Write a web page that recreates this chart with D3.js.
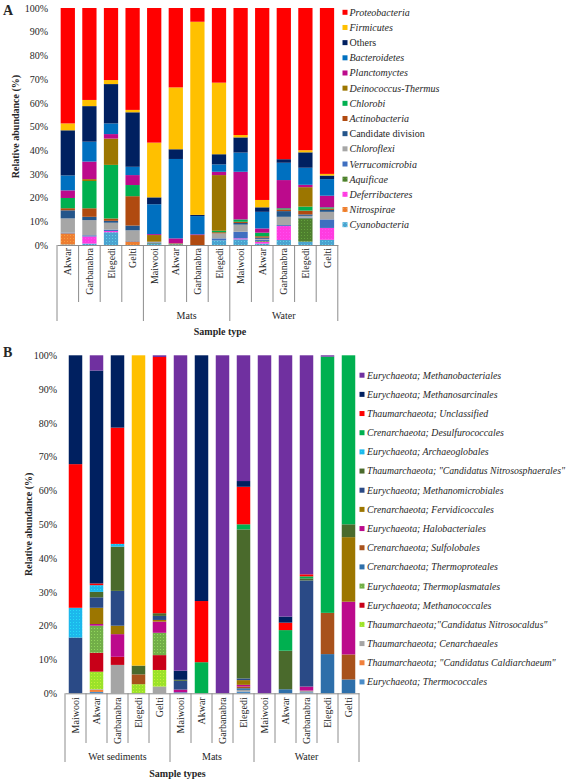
<!DOCTYPE html>
<html><head><meta charset="utf-8">
<script src="https://cdn.jsdelivr.net/npm/d3@7/dist/d3.min.js"></script>
<style>
body{margin:0;background:#fff}
svg{display:block}
text{font-family:"Liberation Serif","Times New Roman",serif;fill:#262626}
</style></head>
<body><svg id="chart" width="567" height="780"></svg>
<script>
// ---------- Panel A data (bacteria, 13 samples) ----------
const samplesA = ["Akwar","Garbanabra","Elegedi","Gelti","Maiwooi","Akwar","Garbanabra","Elegedi","Maiwooi","Akwar","Garbanabra","Elegedi","Gelti"];
const groupNamesA = ["", "Mats", "Water"];
const groupSizesA = [4, 4, 5];
const tickLabels = ["0%","10%","20%","30%","40%","50%","60%","70%","80%","90%","100%"];

// series listed bottom -> top of the stack
const cyanobacteria     = [0.2,0.6,5.4,0,0.4,0.2,0,2.0,2.4,0.6,2.1,1.4,2.2];
const nitrospirae       = [4.7,0,0,1.5,0,0,0,0,0,0,0,0,0];
const deferribacteres   = [0,3.0,0.5,0,0,0,0,0,0.4,0.8,5.9,0,5.0];
const aquificae         = [0,0,0,0,0.3,0.3,0,0,0,0.3,0,9.9,0];
const verrucomicrobia   = [0.3,0.5,0.6,0.2,0.4,0,0,0.8,2.8,0.5,0.4,0.3,3.6];
const chloroflexi       = [6.0,6.4,2.9,4.5,0.3,0,0,2.1,3.0,0.4,3.5,0.7,3.2];
const candidateDivision = [3.4,1.4,0.8,2.0,0,0,0,0,0.7,0.5,2.4,0.6,0.8];
const actinobacteria    = [0.9,3.6,1.0,12.4,0,0,4.2,0.5,0.5,0.6,0.7,1.6,0.6];
const chlorobi          = [4.3,11.5,22.6,4.7,0,0,0,0.6,1.0,1.5,0.5,1.7,0.5];
const deinococcus       = [0,0.8,11.1,0,2.8,0.2,0,23.5,0,0,0,8.2,0];
const planctomyctes     = [3.2,7.4,1.9,4.2,0.4,2.1,0.3,1.4,20.1,1.8,11.9,1.0,4.9];
const bacteroidetes     = [6.3,8.4,4.5,3.5,12.6,33.5,7.7,3.1,8.1,7.0,7.3,7.2,7.0];
const othersA           = [19.0,15.0,16.6,23.0,2.9,4.1,0.5,4.3,6.4,1.9,1.5,6.5,1.5];
const firmicutes        = [2.9,2.6,1.7,1.0,23.1,26.1,81.5,30.2,1.0,3.1,0,0.9,0.7];
const proteobacteria    = [48.6,38.8,30.4,43.0,56.8,33.5,5.8,31.5,53.6,81.0,63.8,60.0,70.0];

const seriesA = [
  {name:"Cyanobacteria", values:cyanobacteria, color:"#4BA3D0", dots:true, italic:true},
  {name:"Nitrospirae", values:nitrospirae, color:"#ED7D31", dots:true, italic:true},
  {name:"Deferribacteres", values:deferribacteres, color:"#FF3CE0", dots:true, italic:true},
  {name:"Aquificae", values:aquificae, color:"#4E7F2E", dots:true, italic:true},
  {name:"Verrucomicrobia", values:verrucomicrobia, color:"#3F6FC0", italic:true},
  {name:"Chloroflexi", values:chloroflexi, color:"#A6A6A6", italic:true},
  {name:"Candidate division", values:candidateDivision, color:"#24558A", italic:false},
  {name:"Actinobacteria", values:actinobacteria, color:"#B04A10", italic:true},
  {name:"Chlorobi", values:chlorobi, color:"#00B050", italic:true},
  {name:"Deinococcus-Thermus", values:deinococcus, color:"#9C7600", italic:true},
  {name:"Planctomyctes", values:planctomyctes, color:"#BC0A8C", italic:true},
  {name:"Bacteroidetes", values:bacteroidetes, color:"#0070C0", italic:true},
  {name:"Others", values:othersA, color:"#002060", italic:false},
  {name:"Firmicutes", values:firmicutes, color:"#FFC000", italic:true},
  {name:"Proteobacteria", values:proteobacteria, color:"#FF0000", italic:true}
];

// ---------- Panel B data (archaea, 14 samples) ----------
const samplesB = ["Maiwooi","Akwar","Garbanabra","Elegedi","Gelti","Maiwooi","Akwar","Garbanabra","Elegedi","Maiwooi","Akwar","Garbanabra","Elegedi","Gelti"];
const groupNamesB = ["Wet sediments", "Mats", "Water"];
const groupSizesB = [5, 4, 5];

const thermococcales     = [0,0.4,0,0,0,0.3,0,0,0.5,0,0,0.3,0,0];
const caldiarchaeum      = [0,0.6,0,0,0,0,0,0,0,0,0,0,0,0];
const cenarchaeales      = [0,0.2,8.4,0,2.0,0,0,0,0.5,0,0,0.5,0,0];
const nitrosocaldus      = [0,5.2,0,2.7,4.9,0,0,0,0,0,0,0,0,0];
const methanococcales    = [0,5.6,2.4,0,4.4,0,0,0,0,0,0,0,0,0];
const thermoplasmatales  = [0,8.0,0,0,6.6,0,0,0,0,0,0,0,0,0];
const thermoproteales    = [0,0,0,0,0,0,0,0,0.5,0,1.2,0,11.6,4.1];
const sulfolobales       = [0,0,0,2.9,0,0,0,0,0.5,0,0,0,12.2,7.4];
const halobacteriales    = [0,0.5,6.7,0,3.3,0.8,0,0,0.5,0,0,1.2,0,15.6];
const fervidicoccales    = [0,4.8,2.5,0,0.5,0,0,0,1.4,0,0,0,0,19.1];
const methanomicrobiales = [16.5,3.1,10.3,0,1.2,2.6,0,0,0.5,0,0,31.4,0,0];
const nitrososphaerales  = [0,1.6,13.1,2.6,0.8,0.3,0,0,44.1,0,11.4,0.6,0,3.8];
const archaeoglobales    = [8.8,2.0,0.8,0,0,0,0,0,0,0,0,0,0,0];
const desulfurococcales  = [0,0,0,0,0,0,9.2,0,1.5,0,6.1,0.6,75.8,50.0];
const thaumUnclassified  = [42.5,0.5,34.4,0,75.8,0,18.1,0,11.1,0,2.2,0.6,0,0];
const methanosarcinales  = [32.2,63.0,21.4,0,0,2.7,72.7,0,1.7,0,1.8,0,0,0];
const methanobacteriales = [0,4.5,0,0,0.5,93.4,0,100,37.2,100,77.3,64.8,0.4,0];
const unlistedB          = [0,0,0,91.8,0,0,0,0,0,0,0,0,0,0];

const seriesB = [
  {name:"Eurychaeota; Thermococcales", values:thermococcales, color:"#4A8CC8"},
  {name:"Thaumarchaeota; \"Candidatus Caldiarchaeum\"", values:caldiarchaeum, color:"#F0803C"},
  {name:"Thaumarchaeota; Cenarchaeales", values:cenarchaeales, color:"#A5A5A5"},
  {name:"Thaumarchaeota;\"Candidatus Nitrosocaldus\"", values:nitrosocaldus, color:"#9BE22A", dots:true},
  {name:"Eurychaeota; Methanococcales", values:methanococcales, color:"#C80018"},
  {name:"Eurychaeota; Thermoplasmatales", values:thermoplasmatales, color:"#72AE48", dots:true},
  {name:"Crenarchaeota; Thermoproteales", values:thermoproteales, color:"#2E6FAA"},
  {name:"Crenarchaeota; Sulfolobales", values:sulfolobales, color:"#A8521C"},
  {name:"Eurychaeota; Halobacteriales", values:halobacteriales, color:"#BC0A8C"},
  {name:"Crenarchaeota; Fervidicoccales", values:fervidicoccales, color:"#9C7600"},
  {name:"Eurychaeota; Methanomicrobiales", values:methanomicrobiales, color:"#2A4A86"},
  {name:"Thaumarchaeota; \"Candidatus Nitrososphaerales\"", values:nitrososphaerales, color:"#4A6A2C"},
  {name:"Eurychaeota; Archaeoglobales", values:archaeoglobales, color:"#1CB8EC", dots:true},
  {name:"Crenarchaeota; Desulfurococcales", values:desulfurococcales, color:"#00B050"},
  {name:"Thaumarchaeota; Unclassified", values:thaumUnclassified, color:"#FF0000"},
  {name:"Eurychaeota; Methanosarcinales", values:methanosarcinales, color:"#002060"},
  {name:"Eurychaeota; Methanobacteriales", values:methanobacteriales, color:"#7030A0"},
  {name:"unlisted", values:unlistedB, color:"#FFC000", legend:false}
];
seriesB.forEach(s => { s.italic = true; });

const svg = d3.select("#chart");
const defs = svg.append("defs");

function patternFor(key, color) {
  const id = "pat-" + key;
  const p = defs.append("pattern").attr("id", id).attr("patternUnits","userSpaceOnUse")
    .attr("width", 3).attr("height", 3);
  p.append("rect").attr("width",3).attr("height",3).attr("fill", color);
  p.append("rect").attr("x",1).attr("y",1).attr("width",0.8).attr("height",0.8)
    .attr("fill", d3.color(color).brighter(1.2)).attr("opacity",0.8);
  return "url(#" + id + ")";
}

function drawPanel(cfg) {
  const g = svg.append("g");
  const n = cfg.samples.length;
  const idx = d3.range(n);
  const x = d3.scaleBand().domain(idx).range([cfg.x0, cfg.x1])
    .paddingInner(cfg.padIn).paddingOuter(cfg.padIn / 2);
  const y = d3.scaleLinear().domain([0, 1]).range([cfg.yBot, cfg.yTop]);

  cfg.series.forEach((s, k) => {
    s.fill = s.dots ? patternFor(cfg.key + k, s.color) : s.color;
  });

  const rows = idx.map(i => {
    const r = {i};
    cfg.series.forEach(s => { r[s.name] = s.values[i]; });
    return r;
  });
  const stack = d3.stack().keys(cfg.series.map(s => s.name)).offset(d3.stackOffsetExpand);
  const layers = stack(rows);

  g.selectAll("g.layer").data(layers).join("g")
    .attr("fill", (d, k) => cfg.series[k].fill)
    .selectAll("rect").data(d => d).join("rect")
      .attr("x", d => x(d.data.i))
      .attr("width", x.bandwidth())
      .attr("y", d => y(d[1]))
      .attr("height", d => Math.max(0, y(d[0]) - y(d[1])));

  // y axis (labels only)
  const yAxis = d3.axisLeft(y).tickValues(d3.range(0, 1.0001, 0.1))
    .tickFormat((d, k) => tickLabels[k]).tickSize(0).tickPadding(cfg.x0 - cfg.tickRight);
  const ya = g.append("g").attr("transform", `translate(${cfg.x0},0)`).call(yAxis);
  ya.select(".domain").remove();
  ya.selectAll("text").attr("font-size", 10).attr("font-family", "Liberation Serif").attr("fill", "#262626");

  // x axis
  const xAxis = d3.axisBottom(x).tickSize(0).tickSizeOuter(0).tickFormat(i => cfg.samples[i]);
  const xa = g.append("g").attr("transform", `translate(0,${cfg.yBot})`).call(xAxis);
  xa.select(".domain").attr("stroke", "#8c8c8c").attr("stroke-width", 1);
  xa.selectAll("text")
    .attr("font-size", 10).attr("font-family", "Liberation Serif").attr("fill", "#262626")
    .attr("text-anchor", "end").attr("transform", "rotate(-90)")
    .attr("x", -cfg.labelGap).attr("y", 0).attr("dy", "0.35em");

  // category dividers
  const step = x.step();
  const groupEdges = [0];
  cfg.groupSizes.forEach(sz => groupEdges.push(groupEdges[groupEdges.length - 1] + sz));
  d3.range(n + 1).forEach(k => {
    const xx = cfg.x0 + k * step;
    const long = groupEdges.includes(k);
    g.append("line").attr("x1", xx).attr("x2", xx)
      .attr("y1", cfg.yBot).attr("y2", long ? cfg.divLong : cfg.divShort)
      .attr("stroke", "#8c8c8c").attr("stroke-width", 1);
  });
  cfg.groupNames.forEach((nm, k) => {
    if (!nm) return;
    const cx = cfg.x0 + (groupEdges[k] + groupEdges[k + 1]) / 2 * step;
    g.append("text").attr("x", cx).attr("y", cfg.groupY).attr("text-anchor", "middle")
      .attr("font-size", 10).text(nm);
  });

  // titles
  g.append("text").attr("x", cfg.xTitleX).attr("y", cfg.xTitleY).attr("text-anchor", "middle")
    .attr("font-size", 10).attr("font-weight", "bold").text(cfg.xTitle);
  g.append("text").attr("transform", `translate(${cfg.yTitleX},${(cfg.yTop + cfg.yBot) / 2}) rotate(-90)`)
    .attr("text-anchor", "middle").attr("dy", "0.35em")
    .attr("font-size", 10).attr("font-weight", "bold").text("Relative abundance (%)");
  g.append("text").attr("x", 3).attr("y", cfg.letterY).attr("font-size", 14)
    .attr("font-weight", "bold").attr("fill", "#000").text(cfg.letter);

  // legend (top = last series)
  const leg = cfg.series.slice().reverse().filter(s => s.legend !== false);
  const lg = g.append("g");
  leg.forEach((s, k) => {
    const cy = cfg.legY0 + k * cfg.legStep;
    lg.append("rect").attr("x", cfg.legSqX).attr("y", cy - 2.5).attr("width", 5).attr("height", 5)
      .attr("fill", s.fill);
    const t = lg.append("text").attr("x", cfg.legTextX).attr("y", cy).attr("dy", "0.35em")
      .attr("font-size", cfg.legFont).attr("font-style", s.italic ? "italic" : "normal").text(s.name);
    const maxW = 565 - cfg.legTextX;
    const w = t.node().getComputedTextLength();
    if (w > maxW) t.attr("textLength", maxW).attr("lengthAdjust", "spacingAndGlyphs");
  });
}

drawPanel({
  key: "a", samples: samplesA, series: seriesA, groupNames: groupNamesA, groupSizes: groupSizesA,
  x0: 57, x1: 337.8, yTop: 8, yBot: 245, padIn: 0.34, tickRight: 48, labelGap: 3,
  divShort: 302, divLong: 321, groupY: 318.5,
  xTitle: "Sample type", xTitleX: 220, xTitleY: 334.5, yTitleX: 15,
  letter: "A", letterY: 15, legFont: 10,
  legSqX: 342.5, legTextX: 349.5, legY0: 12.3, legStep: 15.17
});

drawPanel({
  key: "b", samples: samplesB, series: seriesB, groupNames: groupNamesB, groupSizes: groupSizesB,
  x0: 65, x1: 359, yTop: 355.3, yBot: 693.3, padIn: 0.357, tickRight: 57, labelGap: 4,
  divShort: 743, divLong: 762, groupY: 759.5,
  xTitle: "Sample types", xTitleX: 177.5, xTitleY: 777, yTitleX: 28,
  letter: "B", letterY: 357, legFont: 9.8,
  legSqX: 359.5, legTextX: 367, legY0: 375.2, legStep: 19.17
});
</script>
</body></html>
